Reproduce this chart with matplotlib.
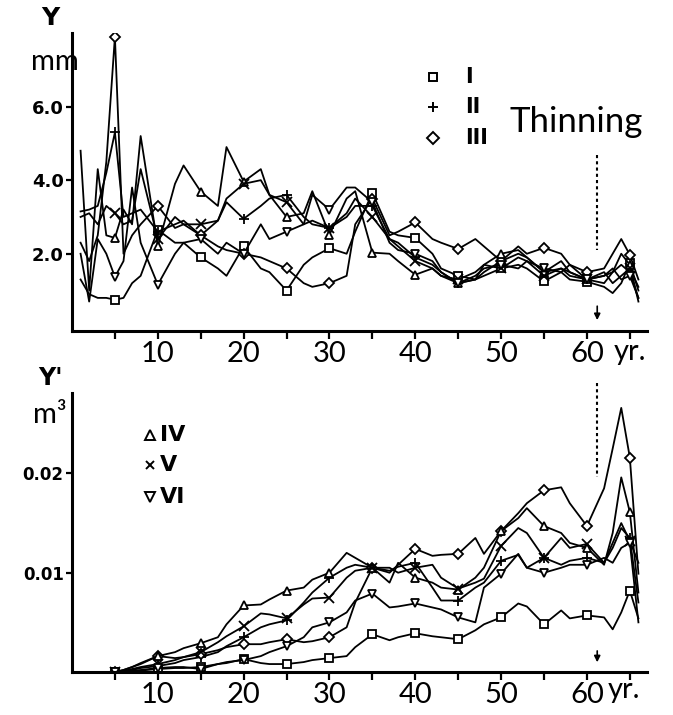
import numpy as np
import matplotlib.pyplot as plt

nan = np.nan

# ages (yr) of the measured points
years = [1, 2, 3, 4, 5, 6, 7, 8, 10, 12, 13, 15, 17, 18, 20, 22, 23, 25, 27, 28,
         30, 32, 33, 35, 37, 38, 40, 42, 43, 45, 47, 48, 50, 52, 53, 55, 57, 58,
         60, 62, 63, 64, 65, 66]

# ring width Y (mm)
y_I = [1.3, 0.9, 0.8, 0.8, 0.75, 0.8, 1.2, 1.4, 2.65, 2.3, 2.3, 1.9, 1.6, 1.4,
       2.2, 1.6, 1.5, 1.0, 1.7, 1.9, 2.15, 2.0, 2.6, 3.66, 2.6, 2.5, 2.43, 2.0,
       1.6, 1.4, 1.3, 1.4, 1.6, 1.7, 1.6, 1.25, 1.5, 1.3, 1.24, 1.1, 0.93, 1.2,
       1.75, 1.0]
y_II = [3.15, 3.2, 3.3, 4.2, 5.3, 3.0, 3.1, 3.2, 2.6, 2.8, 2.9, 2.5, 2.9, 3.4,
        2.95, 3.3, 3.5, 3.6, 3.0, 2.8, 2.7, 3.0, 3.3, 3.3, 2.4, 2.3, 1.9, 1.7,
        1.5, 1.2, 1.3, 1.5, 1.8, 2.0, 1.9, 1.5, 1.6, 1.4, 1.3, 1.4, 1.5, 1.7,
        1.5, 0.8]
y_III = [2.3, 1.8, 2.5, 4.5, 7.9, 2.0, 2.5, 2.8, 3.3, 2.7, 2.8, 2.5, 2.2, 2.1,
         2.0, 1.9, 1.8, 1.6, 1.2, 1.1, 1.2, 1.4, 2.8, 3.5, 2.5, 2.6, 2.85, 2.4,
         2.3, 2.13, 2.4, 2.2, 1.8, 2.2, 2.0, 2.16, 2.0, 1.7, 1.5, 1.6, 2.0, 2.4,
         1.97, 1.3]
y_IV = [4.8, 1.0, 4.3, 2.5, 2.43, 3.2, 2.8, 5.2, 2.2, 3.9, 4.4, 3.69, 3.3, 4.9,
        3.96, 4.3, 3.6, 3.0, 3.1, 3.7, 2.52, 3.5, 3.7, 2.03, 2.0, 1.8, 1.43, 1.6,
        1.4, 1.2, 1.3, 1.7, 2.0, 2.1, 1.9, 1.5, 1.8, 1.5, 1.3, 1.2, 1.5, 2.0,
        1.7, 0.7]
y_V = [3.0, 3.1, 2.8, 3.3, 3.1, 2.8, 2.9, 4.3, 2.4, 3.0, 2.8, 2.8, 2.9, 3.5,
       3.9, 4.0, 3.6, 3.4, 2.8, 2.9, 2.7, 3.1, 3.5, 3.0, 2.4, 2.2, 1.8, 1.6,
       1.4, 1.3, 1.5, 1.7, 1.6, 1.9, 1.8, 1.4, 1.6, 1.5, 1.3, 1.5, 1.2, 1.4,
       1.6, 1.1]
y_VI = [2.0, 0.7, 2.4, 2.0, 1.37, 1.8, 3.8, 2.3, 1.16, 2.0, 2.3, 2.4, 2.0, 2.3,
        2.0, 2.8, 2.4, 2.6, 2.8, 3.6, 3.2, 3.8, 3.8, 3.4, 2.3, 2.1, 2.0, 1.8,
        1.5, 1.2, 1.4, 1.6, 1.7, 1.6, 1.8, 1.6, 1.5, 1.7, 1.3, 1.4, 1.6, 1.3,
        1.4, 0.8]

# volume increment Y' (in 0.001 m3)
v_I = [nan, nan, nan, nan, 0, 0.05, 0.1, 0.15, 0.3, 0.4, 0.4, 0.5, 0.8, 0.9,
       1.3, 0.9, 0.8, 0.8, 1.0, 1.2, 1.4, 1.6, 2.5, 3.8, 3.2, 3.5, 3.9, 3.6,
       3.5, 3.3, 4.2, 4.8, 5.5, 6.9, 6.6, 4.8, 6.2, 5.4, 5.7, 5.5, 4.3, 6.0,
       8.2, 5.4]
v_II = [nan, nan, nan, nan, 0, 0.1, 0.2, 0.4, 0.6, 0.9, 1.2, 1.5, 2.0, 2.6,
        3.5, 4.5, 4.8, 5.2, 7.0, 8.0, 9.5, 10.5, 10.8, 10.5, 10.2, 10.6, 11.0,
        8.5, 7.2, 7.2, 8.5, 9.0, 11.2, 11.8, 10.5, 11.5, 10.8, 11.2, 11.5, 11.0,
        12.5, 14.5, 13.5, 7.0]
v_III = [nan, nan, nan, nan, 0, 0.2, 0.5, 0.8, 1.6, 1.4, 1.5, 1.8, 2.2, 2.5,
         2.8, 2.8, 3.0, 3.3, 3.0, 3.1, 3.5, 4.5, 7.0, 10.5, 10.0, 10.8, 12.4,
         11.7, 11.8, 11.9, 13.5, 11.9, 14.2, 16.0, 17.0, 18.3, 18.6, 17.0, 14.7,
         18.5, 22.5, 26.6, 21.6, 9.9]
v_IV = [nan, nan, nan, nan, 0, 0.2, 0.5, 0.9, 1.6, 2.0, 2.4, 2.9, 3.5, 4.8,
        6.7, 6.8, 7.3, 8.2, 8.5, 9.3, 10.0, 12.0, 11.5, 10.5, 9.0, 11.0, 9.5,
        9.0, 8.5, 8.3, 9.5, 10.5, 14.2, 15.5, 16.5, 14.7, 14.0, 13.0, 12.5,
        10.8, 14.0, 19.6, 16.1, 8.0]
v_V = [nan, nan, nan, nan, 0, 0.1, 0.3, 0.5, 0.8, 1.2, 1.5, 2.0, 3.0, 3.6,
       4.6, 5.9, 5.8, 5.4, 6.8, 7.4, 7.5, 9.5, 10.2, 10.5, 10.5, 10.0, 10.5,
       10.8, 9.5, 8.4, 9.0, 9.4, 12.7, 14.5, 14.0, 11.5, 13.5, 12.5, 12.9,
       11.0, 13.0, 15.0, 13.2, 11.0]
v_VI = [nan, nan, nan, nan, 0, 0.05, 0.1, 0.2, 0.4, 0.5, 0.5, 0.3, 0.8, 1.0,
        1.2, 1.6, 2.0, 2.6, 3.5, 4.5, 5.0, 6.0, 7.2, 7.9, 6.5, 6.6, 6.9, 6.5,
        6.3, 5.5, 5.0, 8.5, 9.9, 11.9, 10.5, 10.0, 10.5, 10.8, 10.8, 11.5,
        11.0, 12.5, 13.0, 5.0]

markers = ['s', '+', 'D', '^', 'x', 'v']
top_series = [y_I, y_II, y_III, y_IV, y_V, y_VI]
bot_series = [v_I, v_II, v_III, v_IV, v_V, v_VI]
thinning = 61.2

x = np.array(years)
mark_idx = [i for i, yr in enumerate(years) if yr % 5 == 0]

W, H = 673, 715
fig = plt.figure(figsize=(W / 100, H / 100), dpi=100)
thin = dict(family=['Lato', 'DejaVu Sans'], weight='normal')


def px(xp, yp):
    return xp / W, 1 - yp / H


ax1 = fig.add_axes([72 / W, 1 - 331 / H, 575 / W, 298 / H])
ax2 = fig.add_axes([72 / W, 1 - 672 / H, 575 / W, 279 / H])

for ax, data, scale in [(ax1, top_series, 1.0), (ax2, bot_series, 0.001)]:
    for vals, m in zip(data, markers):
        ms = 7 if m in ['+', 'x'] else 5.5
        ax.plot(x, np.array(vals) * scale, color='black', lw=1.3,
                marker=m, markevery=mark_idx, ms=ms, mew=1.3,
                mfc='white', mec='black')
    ax.set_xlim(0, 67)
    for s in ['top', 'right']:
        ax.spines[s].set_visible(False)
    for s in ['left', 'bottom']:
        ax.spines[s].set_linewidth(2.2)
    ax.set_xticks(range(5, 66, 5))
    ax.set_xticklabels(['' if t % 10 else str(t) for t in range(5, 66, 5)])
    for lab in ax.get_xticklabels():
        lab.set_fontfamily(['Lato', 'DejaVu Sans'])
        lab.set_fontweight('normal')
        lab.set_fontsize(21)
    ax.tick_params(axis='x', direction='out', length=6, width=1.6, pad=1)
    ax.tick_params(axis='y', direction='out', length=4, width=1.6, pad=2)

ax1.set_ylim(-0.1, 8.0)
ax1.set_yticks([2, 4, 6])
ax1.set_yticklabels(['2.0', '4.0', '6.0'], fontweight='bold', fontsize=13)
ax2.set_ylim(0, 0.0281)
ax2.set_yticks([0.01, 0.02])
ax2.set_yticklabels(['0.01', '0.02'], fontweight='bold', fontsize=12)

# axis titles
fig.text(*px(50, 18), 'Y', fontsize=18, fontweight='bold', ha='center', va='center')
fig.text(*px(55, 62), 'mm', fontsize=21, ha='center', va='center', **thin)
fig.text(*px(50, 378), "Y'", fontsize=17, fontweight='bold', ha='center', va='center')
fig.text(*px(50, 415), 'm³', fontsize=21, ha='center', va='center', **thin)
fig.text(*px(614, 352), 'yr.', fontsize=21, ha='left', va='center', **thin)
fig.text(*px(608, 690), 'yr.', fontsize=21, ha='left', va='center', **thin)

# legends
for (mk, lab, yp) in [('s', 'I', 77), ('+', 'II', 107), ('D', 'III', 138)]:
    ax1.plot([(433 - 72) / 575], [(331 - yp) / 298],
             transform=ax1.transAxes, marker=mk, color='black', mfc='white',
             ms=7 if mk == '+' else 6, mew=1.4, clip_on=False, ls='none')
    ax1.text((465 - 72) / 575, (331 - yp) / 298, lab, transform=ax1.transAxes,
             fontsize=15, fontweight='bold', ha='left', va='center')
fig.text(*px(510, 122), 'Thinning', fontsize=25, ha='left', va='center', **thin)

for (mk, lab, yp) in [('^', 'IV', 435), ('x', 'V', 465), ('v', 'VI', 497)]:
    ax2.plot([(150 - 72) / 575], [(672 - yp) / 279], transform=ax2.transAxes,
             marker=mk, color='black', mfc='white', ms=6 if mk == 'x' else 6.5,
             mew=1.4, clip_on=False, ls='none')
    ax2.text((160 - 72) / 575, (672 - yp) / 279, lab, transform=ax2.transAxes,
             fontsize=16, fontweight='bold', ha='left', va='center')

# thinning markers
ax1.plot([thinning, thinning], [4.69, 2.11], color='black', lw=1.5,
         ls=(0, (1.5, 1.5)), clip_on=False)
ax2.plot([thinning, thinning], [0.0291, 0.0196], color='black', lw=1.5,
         ls=(0, (1.5, 1.5)), clip_on=False)
ax1.annotate('', xy=(thinning, 0.12), xytext=(thinning, 0.65),
             arrowprops=dict(arrowstyle='-|>', color='black', lw=1.2,
                             mutation_scale=9))
ax2.annotate('', xy=(thinning, 0.0007), xytext=(thinning, 0.0024),
             arrowprops=dict(arrowstyle='-|>', color='black', lw=1.2,
                             mutation_scale=9))

fig.savefig('out.png', dpi=100)
